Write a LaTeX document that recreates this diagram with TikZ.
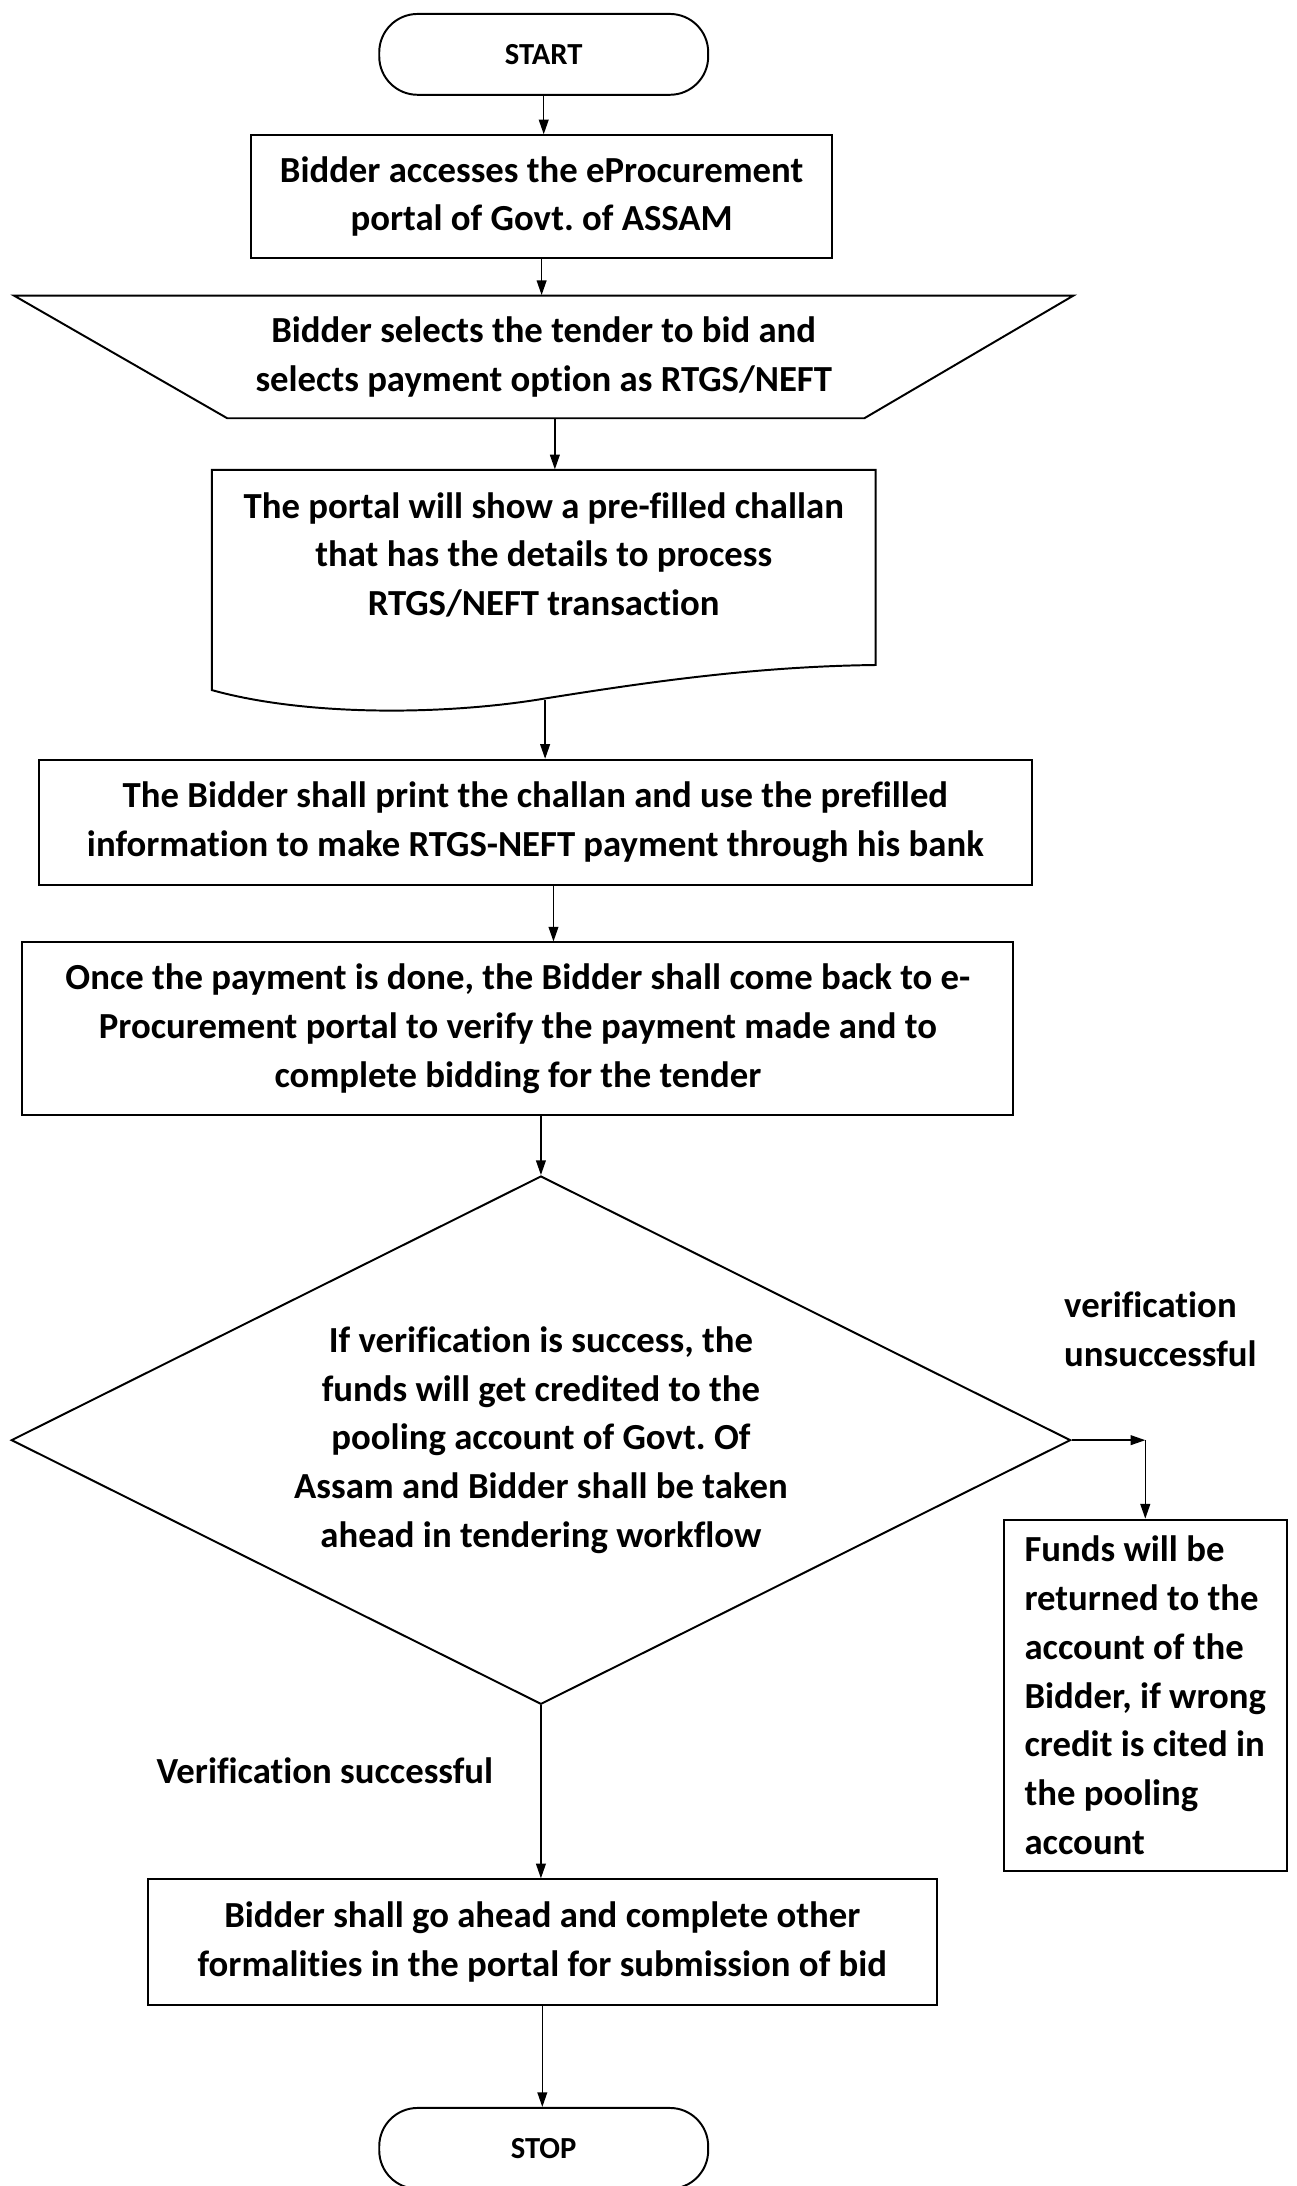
\documentclass[tikz,border=0pt]{standalone}
\usepackage{fontspec}
\setmainfont{Carlito}[Ligatures={NoCommon}]
\usetikzlibrary{shapes.geometric,arrows.meta}
\frenchspacing
\newcommand{\bodyfont}{\fontsize{15}{19.9}\selectfont\bfseries}
\newcommand{\termfont}{\fontsize{12.5}{15}\selectfont\bfseries}
\tikzset{
  box/.style={draw, line width=0.8pt, align=center, font=\bodyfont, inner sep=0pt},
  term/.style={draw, line width=0.8pt, rounded corners=0.55cm, minimum width=4.72cm, minimum height=1.16cm, font=\termfont},
  txt/.style={align=center, font=\bodyfont, inner sep=0pt},
  lbl/.style={align=left, font=\bodyfont, inner sep=0pt},
  outline/.style={line width=0.8pt},
  link/.style={->, line width=0.6pt}
}
\begin{document}
\begin{tikzpicture}[x=0.02cm,y=-0.02cm,>={Stealth[length=6pt,width=4pt,inset=0pt]}]
    \useasboundingbox (0,0) rectangle (930,1568);
    \node[term] (start) at (390,39) {START};
    \node[box, minimum width=8.34cm, minimum height=1.76cm] (access) at (388.5,141)
      {Bidder accesses the eProcurement\\portal of Govt. of ASSAM};
    \node[txt, minimum height=1.76cm] (select) at (390,256)
      {Bidder selects the tender to bid and\\selects payment option as RTGS/NEFT};
    \draw[outline] (10,212) -- (770,212) -- (620,300) -- (163,300) -- cycle;
    \node[txt, minimum height=2.44cm] (challan) at (390,398)
      {The portal will show a pre-filled challan\\that has the details to process\\RTGS/NEFT transaction};
    \draw[outline] (152,495) -- (152,337) -- (628,337) -- (628,477)
      .. controls (540,478) and (460,490) .. (391,501)
      .. controls (320,513) and (220,514) .. (152,495) -- cycle;
    \coordinate (chout) at (391,502);
    \node[box, minimum width=14.24cm, minimum height=1.8cm] (print) at (384,590)
      {The Bidder shall print the challan and use the prefilled\\information to make RTGS-NEFT payment through his bank};
    \node[box, minimum width=14.22cm, minimum height=2.48cm] (verify) at (371.5,738)
      {Once the payment is done, the Bidder shall come back to e-\\Procurement portal to verify the payment made and to\\complete bidding for the tender};
    \node[txt, draw, diamond, aspect=2, line width=0.8pt, minimum width=15.2cm, minimum height=7.58cm] (check) at (388,1033)
      {If verification is success, the\\funds will get credited to the\\pooling account of Govt. Of\\Assam and Bidder shall be taken\\ahead in tendering workflow};
    \node[lbl, anchor=west] (nok) at (763,953.5) {verification\\unsuccessful};
    \node[box, align=left, minimum width=4.06cm, minimum height=5.04cm] (refund) at (821.5,1216)
      {Funds will be\\returned to the\\account of the\\Bidder, if wrong\\credit is cited in\\the pooling\\account};
    \coordinate (turn) at (check.east -| refund.north);
    \node[lbl, anchor=west] (ok) at (112,1270) {Verification successful};
    \node[box, minimum width=11.32cm, minimum height=1.8cm] (submit) at (389,1393)
      {Bidder shall go ahead and complete other\\formalities in the portal for submission of bid};
    \node[term] (stop) at (390,1541) {STOP};
    \draw[link] (start.south) -- (start.south |- access.north);
    \draw[link] (access.south) -- (access.south |- select.north);
    \draw[link] ([xshift=0.16cm]select.south) -- ([xshift=0.16cm]select.south |- challan.north);
    \draw[link] (chout) -- (chout |- print.north);
    \draw[link] ([xshift=0.26cm]print.south) -- ([xshift=0.26cm]print.south |- verify.north);
    \draw[link] (check.north |- verify.south) -- (check.north);
    \draw[link] (check.east) -- (turn);
    \draw[link] (turn) -- (refund.north);
    \draw[link] (check.south) -- (check.south |- submit.north);
    \draw[link] (submit.south) -- (submit.south |- stop.north);
\end{tikzpicture}
\end{document}
